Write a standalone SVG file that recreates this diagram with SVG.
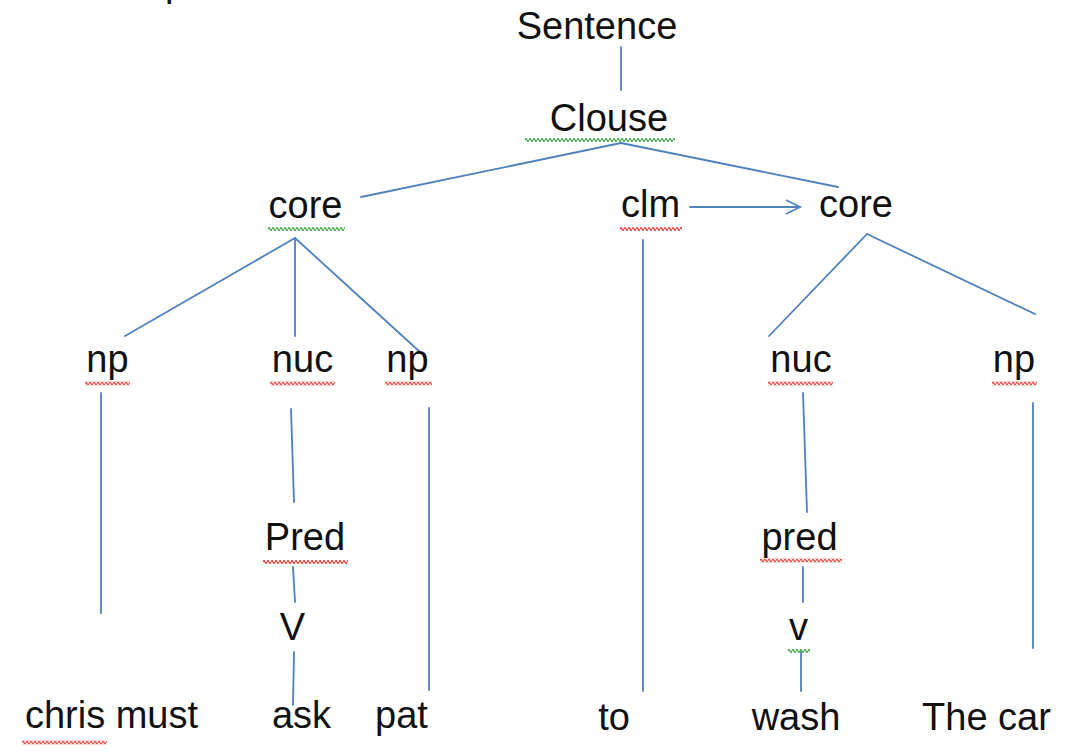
<svg xmlns="http://www.w3.org/2000/svg" width="1065" height="753" viewBox="0 0 1065 753">
<style>
  text { font-family: "Liberation Sans", Arial, sans-serif; font-size: 38px; fill: #111; text-anchor: middle; }
  .ln { stroke: #4f81bd; stroke-width: 1.8; fill: none; stroke-linecap: round; }
  .sr { fill: url(#wavyRed); }
  .sg { fill: url(#wavyGreen); }
</style>
<defs>
  <pattern id="wavyRed" width="4" height="4" patternUnits="userSpaceOnUse">
    <path d="M0,2 Q1,-0.6 2,2 T4,2" fill="none" stroke="#e3261b" stroke-width="1.2"/>
  </pattern>
  <pattern id="wavyGreen" width="4" height="4" patternUnits="userSpaceOnUse">
    <path d="M0,2 Q1,-0.6 2,2 T4,2" fill="none" stroke="#2e9e2e" stroke-width="1.2"/>
  </pattern>
  <marker id="openArrow" markerUnits="userSpaceOnUse" markerWidth="18" markerHeight="18" viewBox="0 0 18 18" refX="16" refY="9" orient="auto">
    <path d="M2,2 L16,9 L2,16" fill="none" stroke="#4f81bd" stroke-width="1.8"/>
  </marker>
</defs>
<rect width="1065" height="753" fill="#fff"/>

<text x="165" y="-4.5" style="text-anchor:start">p</text>

<g id="connectors">
  <line class="ln" x1="621" y1="47" x2="621" y2="90"/>
  <line class="ln" x1="621" y1="143" x2="361" y2="197"/>
  <line class="ln" x1="621" y1="143" x2="838" y2="187"/>
  <line class="ln" x1="690" y1="207" x2="800" y2="207" marker-end="url(#openArrow)"/>
  <line class="ln" x1="295" y1="238" x2="125" y2="336"/>
  <line class="ln" x1="295" y1="238" x2="295" y2="336"/>
  <line class="ln" x1="295" y1="238" x2="420" y2="352"/>
  <line class="ln" x1="867" y1="234" x2="769" y2="336"/>
  <line class="ln" x1="867" y1="234" x2="1035" y2="314"/>
  <line class="ln" x1="643" y1="240" x2="643" y2="691"/>
  <line class="ln" x1="101" y1="393" x2="101" y2="613"/>
  <line class="ln" x1="291" y1="409" x2="294" y2="502"/>
  <line class="ln" x1="293" y1="567" x2="295" y2="602"/>
  <line class="ln" x1="294" y1="652" x2="293" y2="705"/>
  <line class="ln" x1="429" y1="408" x2="429" y2="690"/>
  <line class="ln" x1="803" y1="393" x2="807" y2="512"/>
  <line class="ln" x1="803" y1="567" x2="803" y2="602"/>
  <line class="ln" x1="801" y1="652" x2="801" y2="691"/>
  <line class="ln" x1="1033" y1="403" x2="1033" y2="648"/>
</g>

<g id="sentence"><text x="597" y="39">Sentence</text></g>
<g id="clouse"><text x="609" y="131">Clouse</text><rect class="sg" transform="translate(525,138)" width="150" height="4"/></g>
<g id="core-left"><text x="305.5" y="218">core</text><rect class="sg" transform="translate(268,227)" width="77" height="4"/></g>
<g id="clm"><text x="650.5" y="217">clm</text><rect class="sr" transform="translate(620,227)" width="62" height="4"/></g>
<g id="core-right"><text x="856" y="217">core</text></g>
<g id="np-1"><text x="107.5" y="372">np</text><rect class="sr" transform="translate(85,381.5)" width="45" height="4"/></g>
<g id="nuc-1"><text x="302.5" y="372">nuc</text><rect class="sr" transform="translate(270,381.5)" width="65" height="4"/></g>
<g id="np-2"><text x="407.5" y="372">np</text><rect class="sr" transform="translate(385,381.5)" width="47" height="4"/></g>
<g id="nuc-2"><text x="801" y="372">nuc</text><rect class="sr" transform="translate(768,381.5)" width="65" height="4"/></g>
<g id="np-3"><text x="1014" y="372">np</text><rect class="sr" transform="translate(992,381.5)" width="45" height="4"/></g>
<g id="pred-1"><text x="305" y="550">Pred</text><rect class="sr" transform="translate(263,560)" width="85" height="4"/></g>
<g id="pred-2"><text x="799.5" y="550">pred</text><rect class="sr" transform="translate(760,558.5)" width="82" height="4"/></g>
<g id="v-1"><text x="292.5" y="640">V</text></g>
<g id="v-2"><text x="798.5" y="640">v</text><rect class="sg" transform="translate(788,649)" width="22" height="4"/></g>
<g id="chris-must"><text x="111.5" y="728">chris must</text><rect class="sr" transform="translate(22,740.5)" width="85" height="4"/></g>
<g id="ask"><text x="301.5" y="728">ask</text></g>
<g id="pat"><text x="401.5" y="728">pat</text></g>
<g id="to"><text x="614" y="730">to</text></g>
<g id="wash"><text x="796" y="730">wash</text></g>
<g id="the-car"><text x="986.5" y="730">The car</text></g>
</svg>
